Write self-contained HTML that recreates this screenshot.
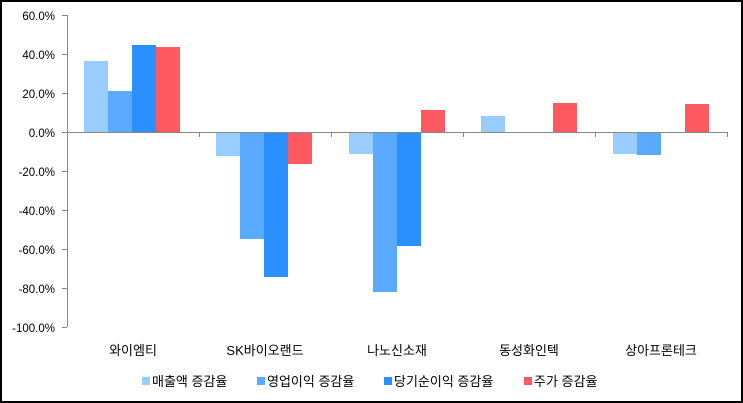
<!DOCTYPE html>
<html><head><meta charset="utf-8"><style>
body{margin:0;background:#fff}
svg{display:block}
text{font-family:"Liberation Sans","Noto Sans CJK KR",sans-serif;font-size:11.5px;fill:#000}
.c{font-size:13px}
</style></head><body>
<svg width="743" height="403" xmlns="http://www.w3.org/2000/svg">
<rect x="1" y="1" width="741" height="401" fill="#fff" stroke="#000" stroke-width="2"/>
<g fill="#99CCFF">
<rect x="84" y="61" width="24" height="71"/>
<rect x="216" y="132" width="24" height="24"/>
<rect x="349" y="132" width="24" height="22"/>
<rect x="481" y="116" width="24" height="16"/>
<rect x="613" y="132" width="24" height="22"/>
</g>
<g fill="#5AAAFF">
<rect x="108" y="91" width="24" height="41"/>
<rect x="240" y="132" width="24" height="107"/>
<rect x="373" y="132" width="24" height="160"/>
<rect x="637" y="132" width="24" height="23"/>
</g>
<g fill="#2A90FF">
<rect x="132" y="45" width="24" height="87"/>
<rect x="264" y="132" width="24" height="145"/>
<rect x="397" y="132" width="24" height="114"/>
</g>
<g fill="#FF5A62">
<rect x="156" y="47" width="24" height="85"/>
<rect x="288" y="132" width="24" height="32"/>
<rect x="421" y="110" width="24" height="22"/>
<rect x="553" y="103" width="24" height="29"/>
<rect x="685" y="104" width="24" height="28"/>
</g>
<g stroke="#888" stroke-width="1">
<line x1="67.5" y1="15" x2="67.5" y2="327"/>
<line x1="67" y1="132.5" x2="727" y2="132.5"/>
<line x1="62" y1="15.5" x2="67" y2="15.5"/><line x1="62" y1="54.5" x2="67" y2="54.5"/>
<line x1="62" y1="93.5" x2="67" y2="93.5"/><line x1="62" y1="132.5" x2="67" y2="132.5"/>
<line x1="62" y1="171.5" x2="67" y2="171.5"/><line x1="62" y1="210.5" x2="67" y2="210.5"/>
<line x1="62" y1="249.5" x2="67" y2="249.5"/><line x1="62" y1="288.5" x2="67" y2="288.5"/>
<line x1="62" y1="327.5" x2="67" y2="327.5"/>
<line x1="199.5" y1="132" x2="199.5" y2="137"/><line x1="331.5" y1="132" x2="331.5" y2="137"/>
<line x1="463.5" y1="132" x2="463.5" y2="137"/><line x1="595.5" y1="132" x2="595.5" y2="137"/>
<line x1="727.5" y1="132" x2="727.5" y2="137"/>
</g>
<g text-anchor="end">
<text x="55" y="20">60.0%</text><text x="55" y="59">40.0%</text><text x="55" y="98">20.0%</text>
<text x="55" y="137">0.0%</text><text x="55" y="176">-20.0%</text><text x="55" y="215">-40.0%</text>
<text x="55" y="254">-60.0%</text><text x="55" y="293">-80.0%</text><text x="55" y="332">-100.0%</text>
</g>
<g text-anchor="middle" class="c">
<text x="133" y="355" class="c">와이엠티</text><text x="265" y="355" class="c">SK바이오랜드</text>
<text x="397" y="355" class="c">나노신소재</text><text x="529" y="355" class="c">동성화인텍</text><text x="661" y="355" class="c">상아프론테크</text>
</g>
<rect x="142" y="377" width="8" height="8" fill="#99CCFF"/><text class="c" x="152" y="386">매출액 증감율</text>
<rect x="257" y="377" width="8" height="8" fill="#5AAAFF"/><text class="c" x="267" y="386">영업이익 증감율</text>
<rect x="384" y="377" width="8" height="8" fill="#2A90FF"/><text class="c" x="394" y="386">당기순이익 증감율</text>
<rect x="524" y="377" width="8" height="8" fill="#FF5A62"/><text class="c" x="534" y="386">주가 증감율</text>
</svg>
</body></html>
